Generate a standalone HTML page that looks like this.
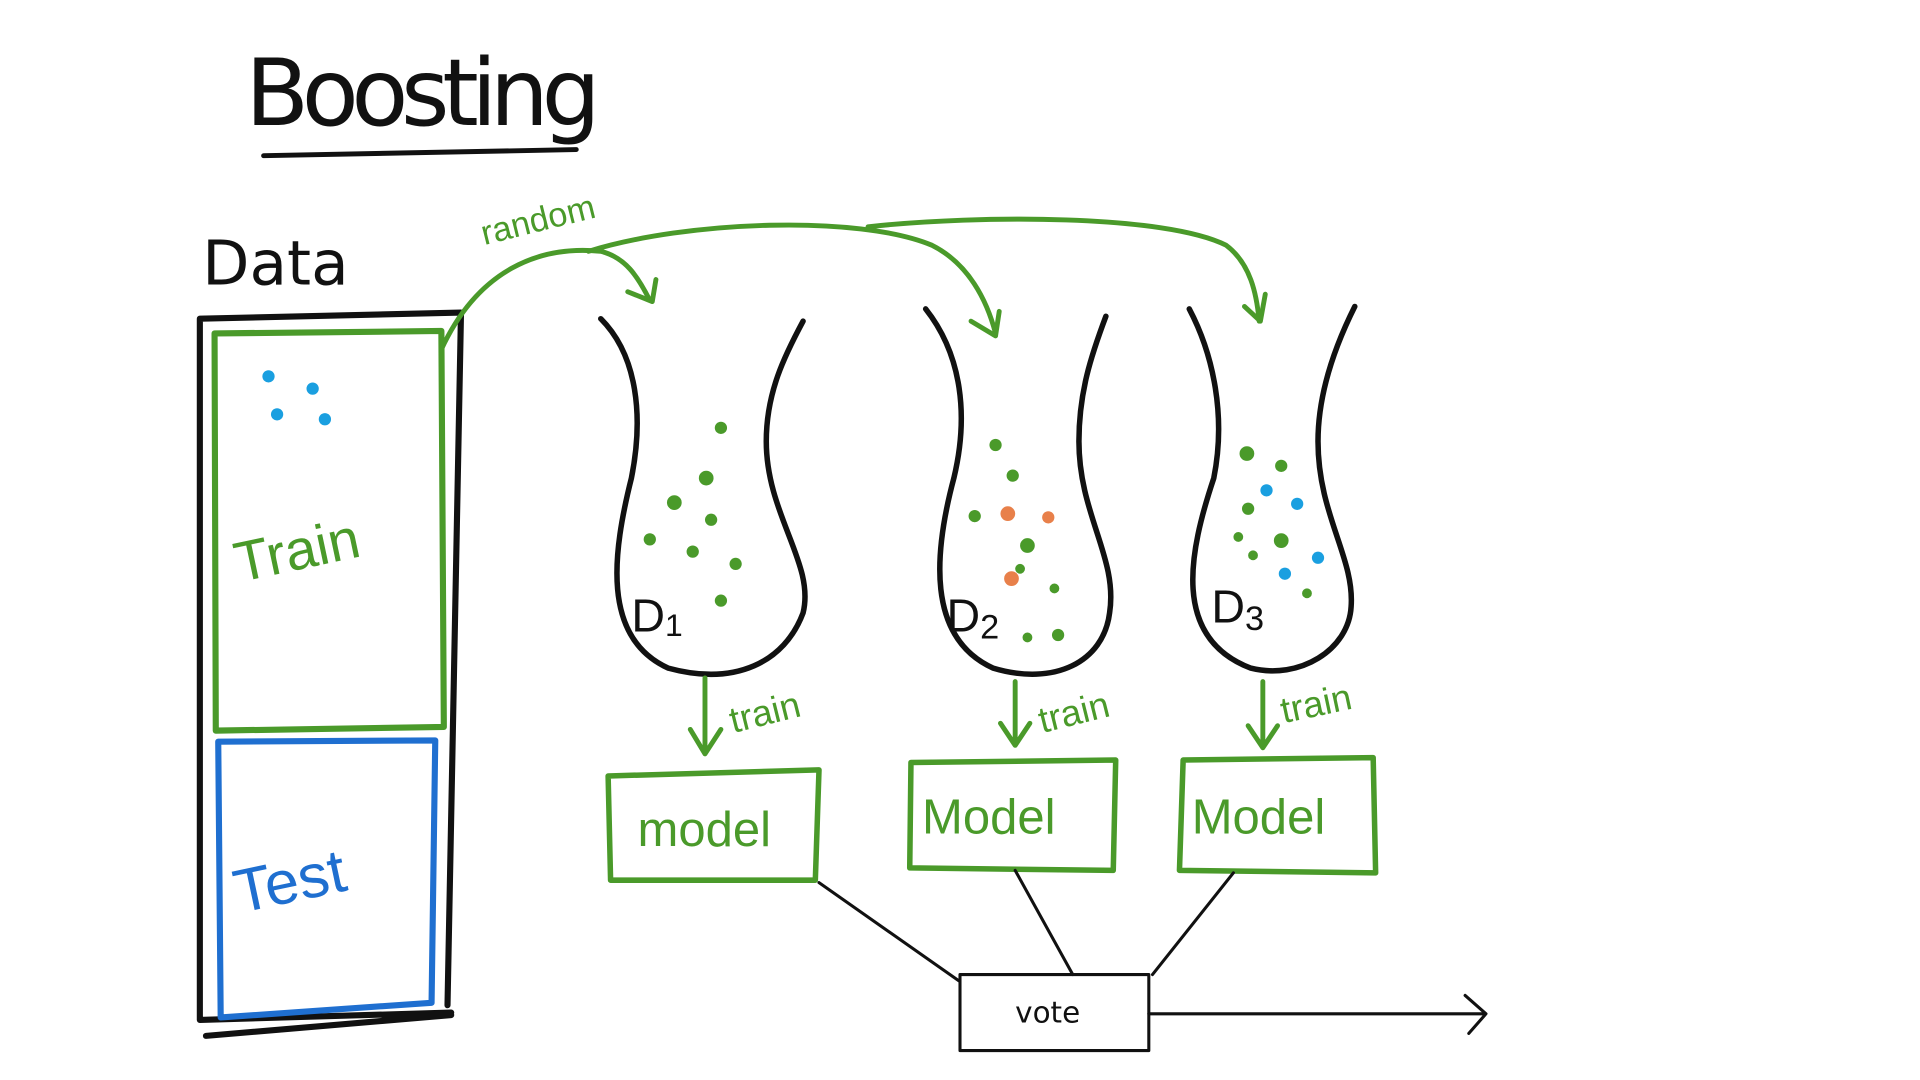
<!DOCTYPE html>
<html><head><meta charset="utf-8"><style>
html,body{margin:0;padding:0;background:#fff;width:1920px;height:1080px;overflow:hidden}
svg{display:block}
text{font-family:"Liberation Sans",sans-serif}
</style></head><body>
<svg width="1920" height="1080" viewBox="0 0 1566 881" preserveAspectRatio="none" xmlns="http://www.w3.org/2000/svg">
<rect width="1566" height="881" fill="#fff"/>
<g fill="none" stroke-linecap="round" stroke-linejoin="round">
<text x="200" y="102" font-size="76" fill="#111" stroke="none" style="font-family:'DejaVu Sans',sans-serif" textLength="290">Boosting</text>
<path d="M215 127 L470 122" stroke="#111" stroke-width="4"/>
<text x="165" y="232" font-size="50" fill="#111" stroke="none" style="font-family:'DejaVu Sans',sans-serif">Data</text>
<path d="M163 260 L376 255 L365 820 M163 260 L163 832 L368 826 M168 845 L368 828" stroke="#111" stroke-width="5"/>
<path d="M175 272 L360 270 L362 593 L176 596 Z" stroke="#4a9a2a" stroke-width="5"/>
<path d="M178 605 L355 604 L352 818 L180 830 Z" stroke="#1f6fd0" stroke-width="5"/>
<text x="195" y="475" font-size="46" fill="#4a9a2a" stroke="none" transform="rotate(-12 195 475)">Train</text>
<text x="195" y="745" font-size="50" fill="#1f6fd0" stroke="none" transform="rotate(-12 195 745)">Test</text>
<g fill="#1a9fe0" stroke="none"><circle cx="219" cy="307" r="5"/><circle cx="255" cy="317" r="5"/><circle cx="226" cy="338" r="5"/><circle cx="265" cy="342" r="5"/></g>
<path d="M360 285 C390 220 440 200 490 205 C510 210 520 225 530 245" stroke="#4a9a2a" stroke-width="4"/>
<path d="M512 238 L532 246 L535 228" stroke="#4a9a2a" stroke-width="4"/>
<path d="M480 205 C560 180 700 175 760 200 C790 215 805 245 812 272" stroke="#4a9a2a" stroke-width="4"/>
<path d="M792 262 L812 274 L815 254" stroke="#4a9a2a" stroke-width="4"/>
<path d="M708 185 C800 175 950 175 1000 200 C1020 215 1025 240 1027 262" stroke="#4a9a2a" stroke-width="4"/>
<path d="M1015 250 L1028 262 L1032 240" stroke="#4a9a2a" stroke-width="4"/>
<text x="395" y="200" font-size="28" fill="#4a9a2a" stroke="none" transform="rotate(-14 395 200)">random</text>
<path d="M490 260 C520 290 525 340 515 390 C500 450 490 520 545 545 C600 560 640 540 655 500 C665 460 625 420 625 360 C625 320 640 290 655 262" stroke="#111" stroke-width="4.5"/>
<path d="M755 252 C785 290 790 340 778 390 C762 450 755 520 810 545 C860 560 900 540 905 500 C912 455 880 420 880 360 C880 320 890 290 902 258" stroke="#111" stroke-width="4.5"/>
<path d="M970 252 C990 290 1000 340 990 390 C970 450 955 520 1020 545 C1060 555 1100 530 1102 495 C1105 455 1075 420 1075 360 C1075 320 1090 280 1105 250" stroke="#111" stroke-width="4.5"/>
<text x="515" y="515" font-size="38" fill="#111" stroke="none">D<tspan font-size="26" dy="4">1</tspan></text>
<text x="772" y="515" font-size="38" fill="#111" stroke="none">D<tspan font-size="28" dy="6">2</tspan></text>
<text x="988" y="508" font-size="38" fill="#111" stroke="none">D<tspan font-size="28" dy="6">3</tspan></text>
<g fill="#4a9a2a" stroke="none">
<circle cx="588" cy="349" r="5"/><circle cx="576" cy="390" r="6"/><circle cx="550" cy="410" r="6"/><circle cx="580" cy="424" r="5"/><circle cx="530" cy="440" r="5"/><circle cx="565" cy="450" r="5"/><circle cx="600" cy="460" r="5"/><circle cx="588" cy="490" r="5"/>
<circle cx="812" cy="363" r="5"/><circle cx="826" cy="388" r="5"/><circle cx="795" cy="421" r="5"/><circle cx="838" cy="445" r="6"/><circle cx="832" cy="464" r="4"/><circle cx="860" cy="480" r="4"/><circle cx="863" cy="518" r="5"/><circle cx="838" cy="520" r="4"/>
<circle cx="1017" cy="370" r="6"/><circle cx="1045" cy="380" r="5"/><circle cx="1018" cy="415" r="5"/><circle cx="1045" cy="441" r="6"/><circle cx="1022" cy="453" r="4"/><circle cx="1066" cy="484" r="4"/><circle cx="1010" cy="438" r="4"/>
</g>
<g fill="#e8804a" stroke="none"><circle cx="822" cy="419" r="6"/><circle cx="855" cy="422" r="5"/><circle cx="825" cy="472" r="6"/></g>
<g fill="#1a9fe0" stroke="none"><circle cx="1033" cy="400" r="5"/><circle cx="1058" cy="411" r="5"/><circle cx="1075" cy="455" r="5"/><circle cx="1048" cy="468" r="5"/></g>
<g stroke="#4a9a2a" stroke-width="4">
<path d="M575 553 L575 615 M563 595 L575 615 L588 595"/>
<path d="M828 556 L828 608 M816 590 L828 608 L840 590"/>
<path d="M1030 556 L1030 610 M1018 592 L1030 610 L1042 592"/>
</g>
<g fill="#4a9a2a" stroke="none" font-size="30">
<text x="598" y="598" transform="rotate(-14 598 598)">train</text>
<text x="850" y="598" transform="rotate(-14 850 598)">train</text>
<text x="1047" y="590" transform="rotate(-12 1047 590)">train</text>
</g>
<g stroke="#4a9a2a" stroke-width="4.5">
<path d="M496 633 L668 628 L665 718 L498 718 Z"/>
<path d="M743 622 L910 620 L908 710 L742 708 Z"/>
<path d="M965 620 L1120 618 L1122 712 L962 710 Z"/>
</g>
<g fill="#4a9a2a" stroke="none" font-size="40">
<text x="520" y="690">model</text>
<text x="752" y="680">Model</text>
<text x="972" y="680">Model</text>
</g>
<g stroke="#111" stroke-width="2.5">
<path d="M668 720 L782 800"/><path d="M828 710 L875 795"/><path d="M1006 712 L940 795"/>
<rect x="783" y="795" width="154" height="62"/>
<path d="M937 827 L1210 827 M1195 812 L1212 827 L1198 843"/>
</g>
<text x="828" y="834" font-size="24" fill="#111" stroke="none" style="font-family:'DejaVu Sans',sans-serif">vote</text>
</g>
</svg>
</body></html>
